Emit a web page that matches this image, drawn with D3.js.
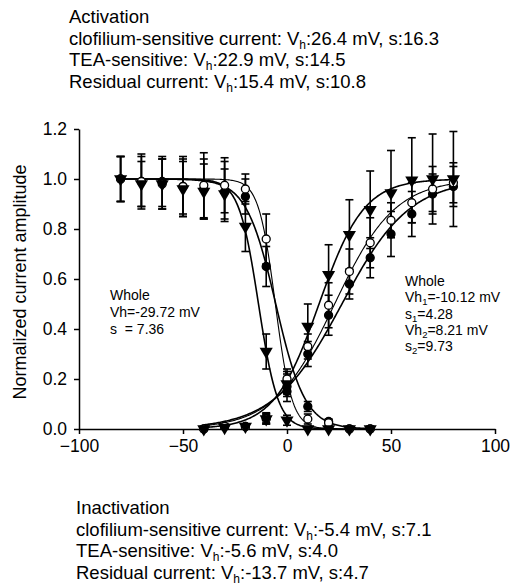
<!DOCTYPE html>
<html>
<head>
<meta charset="utf-8">
<script src="https://cdn.jsdelivr.net/npm/d3@7"></script>
<style>
  body { margin: 0; background: #fff; }
  svg text { font-family: "Liberation Sans", Arial, sans-serif; fill: #000; }
</style>
</head>
<body>
<div id="chart"></div>
<script>
// voltages (mV)
var inactV = [-80, -70, -60, -50, -40, -30, -20, -10, 0, 10, 20, 30, 40];
var actV = [-40, -30, -20, -10, 0, 10, 20, 30, 40, 50, 60, 70, 80];

// inactivation
var clofInact = [1.0, 0.99, 0.99, 0.97, 0.96, 0.95, 0.93, 0.65, 0.15, 0.09, 0.03, 0.0, 0.0];
var clofInactErr = [0.09, 0.1, 0.1, 0.11, 0.12, 0.12, 0.07, 0.08, 0.04, 0.02, 0.01, 0.01, 0.01];
var teaInact = [1.0, 0.99, 0.98, 0.97, 0.975, 0.975, 0.96, 0.76, 0.19, 0.04, 0.025, 0.0, 0.0];
var teaInactErr = [0.09, 0.11, 0.1, 0.12, 0.13, 0.11, 0.06, 0.1, 0.04, 0.02, 0.01, 0.01, 0.01];
var resInact = [1.0, 0.98, 0.98, 0.96, 0.95, 0.94, 0.81, 0.31, 0.035, 0.0, 0.0, 0.0, 0.0];
var resInactErr = [0.09, 0.09, 0.1, 0.11, 0.11, 0.1, 0.1, 0.07, 0.02, 0.01, 0.01, 0.01, 0.01];

// activation
var clofAct = [0.0, 0.01, 0.01, 0.045, 0.17, 0.3, 0.455, 0.58, 0.685, 0.78, 0.86, 0.94, 0.97];
var clofActErr = [0.01, 0.01, 0.01, 0.02, 0.04, 0.05, 0.08, 0.06, 0.08, 0.09, 0.09, 0.08, 0.08];
var teaAct = [0.0, 0.01, 0.01, 0.04, 0.2, 0.33, 0.495, 0.63, 0.745, 0.835, 0.905, 0.96, 0.985];
var teaActErr = [0.01, 0.01, 0.01, 0.02, 0.04, 0.05, 0.09, 0.09, 0.1, 0.07, 0.08, 0.09, 0.08];
var resAct = [0.0, 0.005, 0.01, 0.04, 0.18, 0.41, 0.617, 0.777, 0.877, 0.944, 0.995, 1.0, 1.0];
var resActErr = [0.01, 0.01, 0.01, 0.02, 0.04, 0.09, 0.12, 0.14, 0.155, 0.17, 0.17, 0.18, 0.19];

// Boltzmann fit parameters [Vh, s] from the captions
var clofFit = { act: [26.4, 16.3], inact: [-5.4, 7.1] };
var teaFit = { act: [22.9, 14.5], inact: [-5.6, 4.0] };
var resFit = { act: [15.4, 10.8], inact: [-13.7, 4.7] };

var xTicks = [-100, -50, 0, 50, 100];
var yTicks = [0, 0.2, 0.4, 0.6, 0.8, 1.0, 1.2];

var actLines = [
  ["clofilium-sensitive current: V", "h", ":26.4 mV, s:16.3"],
  ["TEA-sensitive: V", "h", ":22.9 mV, s:14.5"],
  ["Residual current: V", "h", ":15.4 mV, s:10.8"]
];
var inactLines = [
  ["clofilium-sensitive current: V", "h", ":-5.4 mV, s:7.1"],
  ["TEA-sensitive: V", "h", ":-5.6 mV, s:4.0"],
  ["Residual current: V", "h", ":-13.7 mV, s:4.7"]
];

var width = 512, height = 588;
var svg = d3.select("#chart").append("svg")
  .attr("width", width)
  .attr("height", height);

var x = d3.scaleLinear().domain([-100, 100]).range([79, 495]);
var y = d3.scaleLinear().domain([0, 1.2]).range([429, 129]);

// axes
var xAxis = svg.append("g")
  .attr("transform", `translate(0,${y(0)})`)
  .call(d3.axisBottom(x).tickValues(xTicks).tickSize(5).tickPadding(6).tickSizeOuter(0));
var yAxis = svg.append("g")
  .attr("transform", `translate(${x(-100)},0)`)
  .call(d3.axisLeft(y).tickValues(yTicks).tickFormat(d3.format(".1f")).tickSize(5).tickPadding(7).tickSizeOuter(0));
[xAxis, yAxis].forEach(function (a) {
  a.select(".domain").attr("stroke", "#000").attr("stroke-width", 1.5);
  a.selectAll(".tick line").attr("stroke", "#000").attr("stroke-width", 1.5);
  a.selectAll(".tick text").style("font-size", "17.5px").attr("fill", "#000");
});

svg.append("text")
  .attr("transform", `translate(26,${(y(0) + y(1.2)) / 2 + 3}) rotate(-90)`)
  .attr("text-anchor", "middle")
  .style("font-size", "18px")
  .text("Normalized current amplitude");

// series
var series = [
  { v: inactV, m: clofInact, e: clofInactErr, fit: clofFit.inact, dir: -1, shape: "filled" },
  { v: inactV, m: teaInact, e: teaInactErr, fit: teaFit.inact, dir: -1, shape: "open" },
  { v: inactV, m: resInact, e: resInactErr, fit: resFit.inact, dir: -1, shape: "tri" },
  { v: actV, m: clofAct, e: clofActErr, fit: clofFit.act, dir: 1, shape: "filled" },
  { v: actV, m: teaAct, e: teaActErr, fit: teaFit.act, dir: 1, shape: "open" },
  { v: actV, m: resAct, e: resActErr, fit: resFit.act, dir: 1, shape: "tri" }
];

// error bars
series.forEach(function (s) {
  var g = svg.append("g").attr("stroke", "#000").attr("stroke-width", 1.6);
  s.v.forEach(function (v, i) {
    var top = y(s.m[i] + s.e[i]), bot = y(Math.max(0, s.m[i] - s.e[i]));
    g.append("line").attr("x1", x(v)).attr("x2", x(v)).attr("y1", top).attr("y2", bot);
    g.append("line").attr("x1", x(v) - 4).attr("x2", x(v) + 4).attr("y1", top).attr("y2", top);
    g.append("line").attr("x1", x(v) - 4).attr("x2", x(v) + 4).attr("y1", bot).attr("y2", bot);
  });
});

// fitted Boltzmann curves
var line = d3.line().x(function (d) { return x(d[0]); }).y(function (d) { return y(d[1]); });
series.forEach(function (s) {
  var vh = s.fit[0], k = s.fit[1];
  var pts = d3.range(s.v[0], s.v[s.v.length - 1] + 0.01, 0.5).map(function (v) {
    return [v, 1 / (1 + Math.exp(s.dir * (vh - v) / k))];
  });
  svg.append("path")
    .attr("d", line(pts))
    .attr("fill", "none")
    .attr("stroke", "#000")
    .attr("stroke-width", s.shape == "open" ? 1.1 : 1.6);
});

// markers
var tri = d3.symbol().type(d3.symbolTriangle).size(75);
series.forEach(function (s) {
  var g = svg.append("g");
  s.v.forEach(function (v, i) {
    if (s.shape == "tri") {
      g.append("path")
        .attr("d", tri())
        .attr("transform", `translate(${x(v)},${y(s.m[i])}) rotate(180)`)
        .attr("fill", "#000");
    } else {
      g.append("circle")
        .attr("cx", x(v)).attr("cy", y(s.m[i])).attr("r", 4)
        .attr("fill", s.shape == "open" ? "#fff" : "#000")
        .attr("stroke", "#000").attr("stroke-width", 1.3);
    }
  });
});

// caption blocks with subscripts
function block(x0, y0, title, lines, size, gap) {
  svg.append("text").attr("x", x0).attr("y", y0).style("font-size", size + "px").text(title);
  lines.forEach(function (l, i) {
    var t = svg.append("text").attr("x", x0).attr("y", y0 + gap * (i + 1)).style("font-size", size + "px");
    t.append("tspan").text(l[0]);
    t.append("tspan").attr("dy", 4).style("font-size", (size * 0.65) + "px").text(l[1]);
    t.append("tspan").attr("dy", -4).text(l[2]);
  });
}
block(69, 23, "Activation", actLines, 18.5, 21.7);
block(76, 514, "Inactivation", inactLines, 18.5, 21.7);

// "Whole" annotations
var leftNote = ["Whole", "Vh=-29.72 mV", "s  = 7.36"];
leftNote.forEach(function (t, i) {
  svg.append("text").attr("x", 110).attr("y", 300 + i * 17).style("font-size", "14px")
    .style("white-space", "pre").attr("xml:space", "preserve").text(t);
});
var rightNote = [["Whole", "", ""], ["Vh", "1", "=-10.12 mV"], ["s", "1", "=4.28"], ["Vh", "2", "=8.21 mV"], ["s", "2", "=9.73"]];
rightNote.forEach(function (l, i) {
  var t = svg.append("text").attr("x", 405).attr("y", 286 + i * 16.3).style("font-size", "14px");
  t.append("tspan").text(l[0]);
  if (l[1]) {
    t.append("tspan").attr("dy", 3).style("font-size", "9.5px").text(l[1]);
    t.append("tspan").attr("dy", -3).text(l[2]);
  }
});
</script>
</body>
</html>
